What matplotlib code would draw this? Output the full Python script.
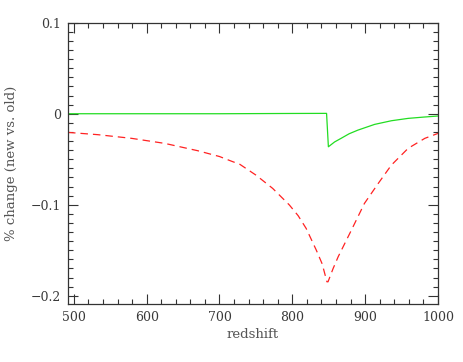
import numpy as np
import matplotlib
matplotlib.use("Agg")
import matplotlib.pyplot as plt
from matplotlib.ticker import MultipleLocator

z_red = [492, 533, 579, 625, 670, 700, 716, 728, 750, 773, 796, 808, 819,
         833, 841, 847.5, 849, 856, 863, 881, 899, 918, 936, 959, 982, 1000]
dv_red = [-0.0205, -0.023, -0.027, -0.0326, -0.0406, -0.047, -0.052, -0.0556,
          -0.0674, -0.082, -0.1003, -0.112, -0.126, -0.150, -0.165, -0.1846,
          -0.1846, -0.170, -0.157, -0.128, -0.0985, -0.0765, -0.0564, -0.038,
          -0.027, -0.0216]

z_green = [492, 600, 700, 800, 847, 849.5, 858, 867, 878, 890, 913, 936,
           959, 980, 1000]
dv_green = [0.0, 0.0, 0.0, 0.0003, 0.0004, -0.0363, -0.031, -0.027, -0.022,
            -0.018, -0.0117, -0.0077, -0.0051, -0.0037, -0.0025]

ink = "#333333"
plt.rcParams["font.family"] = "DejaVu Serif"

fig = plt.figure(figsize=(4.63, 3.62), dpi=100)
ax = fig.add_axes([68 / 463, 1 - 304 / 362, (438 - 68) / 463, (304 - 22.7) / 362])

ax.plot(z_green, dv_green, color="#22dd22", lw=0.9)
ax.plot(z_red, dv_red, color="#ff2222", lw=0.9, dashes=(6, 4))

ax.set_xlim(492, 1000)
ax.set_ylim(-0.209, 0.1)
ax.xaxis.set_major_locator(MultipleLocator(100))
ax.xaxis.set_minor_locator(MultipleLocator(20))
ax.yaxis.set_minor_locator(MultipleLocator(0.01))
ax.set_yticks([-0.2, -0.1, 0, 0.1])
ax.set_yticklabels(["\u22120.2", "\u22120.1", "0", "0.1"])

ax.tick_params(which="both", direction="in", top=True, right=True,
               color=ink, labelcolor="#3a3a3a", labelsize=9, width=0.8)
ax.tick_params(which="major", length=7, pad=5)
ax.tick_params(which="minor", length=3.5)
for s in ax.spines.values():
    s.set_color(ink)
    s.set_linewidth(0.9)

ax.set_xlabel("redshift", color="#555555", fontsize=9.5, labelpad=3)
ax.set_ylabel("% change (new vs. old)", color="#555555", fontsize=9.5, labelpad=9)

fig.savefig("out.png", dpi=100)
